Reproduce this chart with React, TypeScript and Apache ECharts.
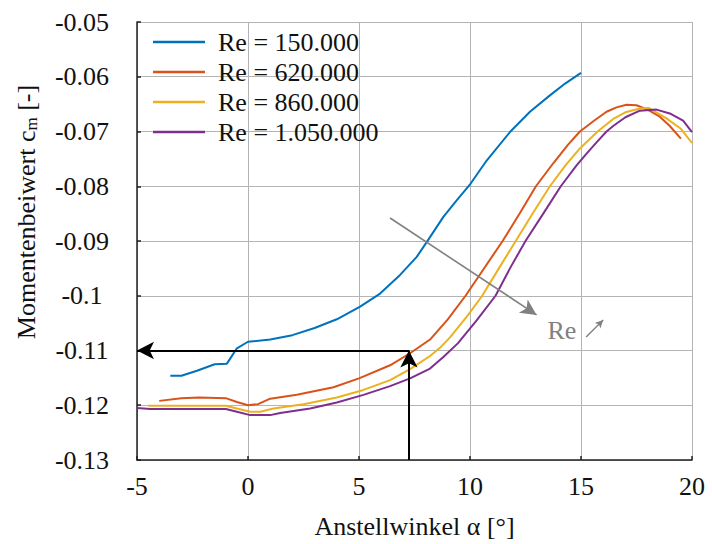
import React, { useEffect, useRef } from "react";
import * as echarts from "echarts";

const FONT = "'Liberation Serif', 'DejaVu Serif', serif";

const seriesNames = ["Re = 150.000", "Re = 620.000", "Re = 860.000", "Re = 1.050.000"];
const seriesColors = ["#0072BD", "#D95319", "#EDB120", "#7E2F8E"];

const alpha150 = [-3.5, -3.0, -2.3, -1.5, -0.95, -0.5, 0, 1, 2, 3, 4, 5.05, 5.95, 6.85, 7.6, 8.05, 8.8, 9.4, 10.03, 10.75, 11.8, 12.7, 13.6, 14.3, 15];
const cm150 = [-0.1146, -0.1146, -0.1137, -0.1125, -0.1124, -0.1096, -0.1084, -0.108, -0.1072, -0.1059, -0.1043, -0.102, -0.0996, -0.0962, -0.0929, -0.0902, -0.0856, -0.0826, -0.0795, -0.0753, -0.0701, -0.0664, -0.0634, -0.0612, -0.0593];

const alpha620 = [-4, -3, -2.2, -1, -0.5, 0, 0.45, 1, 2.2, 3.85, 5, 6.4, 7.3, 8.2, 9.0, 9.8, 10.6, 11.47, 12.25, 12.97, 13.75, 14.4, 14.95, 15.6, 16.15, 16.6, 17.05, 17.5, 18.0, 18.55, 19.0, 19.5];
const cm620 = [-0.1192, -0.1187, -0.1186, -0.1187, -0.1194, -0.12, -0.1198, -0.1188, -0.1181, -0.1167, -0.1151, -0.1127, -0.1105, -0.108, -0.1043, -0.1, -0.0952, -0.09, -0.0849, -0.08, -0.0758, -0.0725, -0.07, -0.068, -0.0664, -0.0656, -0.0651, -0.0652, -0.066, -0.0673, -0.069, -0.0713];

const alpha860 = [-4.5, -3, -1, -0.5, 0.1, 0.55, 1.15, 2.5, 4, 5.2, 6.4, 7.3, 7.75, 8.2, 8.7, 9.1, 9.9, 10.55, 11.3, 12.06, 12.85, 13.6, 14.3, 14.95, 15.75, 16.45, 17.0, 17.65, 18.05, 18.85, 19.5, 20];
const cm860 = [-0.1201, -0.1201, -0.1201, -0.1206, -0.1212, -0.1212, -0.1206, -0.1198, -0.1186, -0.1172, -0.1154, -0.1134, -0.1122, -0.111, -0.1093, -0.1076, -0.1036, -0.1, -0.095, -0.09, -0.0848, -0.08, -0.0762, -0.0731, -0.07, -0.0677, -0.0665, -0.0658, -0.0657, -0.0676, -0.0695, -0.0721];

const alpha1050 = [-5, -4.4, -3, -2, -1, -0.5, 0.1, 1, 1.45, 2.8, 4, 5.2, 6.4, 7.3, 8.2, 8.8, 9.45, 10.3, 11.15, 11.8, 12.5, 13.3, 14.09, 14.8, 15.26, 15.7, 16.15, 16.45, 17.0, 17.65, 18.4, 19, 19.6, 20];
const cm1050 = [-0.1205, -0.1207, -0.1207, -0.1207, -0.1207, -0.1212, -0.1218, -0.1218, -0.1214, -0.1206, -0.1195, -0.1181, -0.1165, -0.1151, -0.1133, -0.1112, -0.1087, -0.1045, -0.1, -0.095, -0.09, -0.085, -0.08, -0.0762, -0.074, -0.072, -0.07, -0.069, -0.0674, -0.0662, -0.066, -0.0667, -0.068, -0.0701];

const xTicks = [-5, 0, 5, 10, 15, 20];
const yTicks = [-0.13, -0.12, -0.11, -0.1, -0.09, -0.08, -0.07, -0.06, -0.05];

// annotation: reading at alpha = 7.25 -> cm = -0.11
const readAlpha = 7.25;
const readCm = -0.11;
// Re trend arrow
const trendStart = [6.4, -0.0858];
const trendEnd = [13.0, -0.1035];
const reLabelPos = [14.14, -0.1063];
const smallArrowStart = [15.23, -0.10755];
const smallArrowEnd = [16.0, -0.10445];

const alphas = [alpha150, alpha620, alpha860, alpha1050];
const cms = [cm150, cm620, cm860, cm1050];

export default function App() {
  const ref = useRef<HTMLDivElement>(null);
  useEffect(() => {
    document.body.style.margin = "0";
    if (!ref.current) return;
    const chart = echarts.init(ref.current, null, { renderer: "svg" });
    const lineSeries = seriesNames.map((name, i) => ({
      name,
      type: "line",
      data: alphas[i].map((a, j) => [a, cms[i][j]]),
      showSymbol: false,
      symbol: "none",
      lineStyle: { color: seriesColors[i], width: 2 },
      itemStyle: { color: seriesColors[i] },
      z: 3,
    }));
    const option: any = {
      animation: false,
      textStyle: { fontFamily: FONT },
      grid: { left: 137, right: 20, top: 22, bottom: 84, containLabel: false },
      legend: {
        data: seriesNames,
        orient: "vertical",
        left: 148,
        top: 24,
        icon: "rect",
        itemWidth: 52,
        itemHeight: 2.5,
        itemGap: 4,
        textStyle: { fontFamily: FONT, fontSize: 26, color: "#111", lineHeight: 26, padding: [0, 0, 0, 8] },
        backgroundColor: "transparent",
      },
      xAxis: {
        type: "value",
        min: -5,
        max: 20,
        interval: 5,
        name: "Anstellwinkel α [°]",
        nameLocation: "middle",
        nameGap: 53,
        nameTextStyle: { fontFamily: FONT, fontSize: 26, color: "#111" },
        axisLine: { show: true, onZero: false, lineStyle: { color: "#222", width: 1.5 } },
        axisTick: { show: true, inside: true, length: 4, lineStyle: { color: "#222", width: 1.5 } },
        axisLabel: { fontFamily: FONT, fontSize: 26, color: "#111", margin: 13, formatter: (v: number) => (xTicks.includes(v) ? String(v) : "") },
        splitLine: { show: true, lineStyle: { color: "#b4b4b4", width: 1 } },
      },
      yAxis: {
        type: "value",
        min: -0.13,
        max: -0.05,
        interval: 0.01,
        axisLine: { show: true, onZero: false, lineStyle: { color: "#222", width: 1.5 } },
        axisTick: { show: true, inside: true, length: 4, lineStyle: { color: "#222", width: 1.5 } },
        axisLabel: {
          fontFamily: FONT,
          fontSize: 26,
          color: "#111",
          align: "center",
          margin: 55,
          formatter: (v: number) => {
            const r = Math.round(v * 100) / 100;
            const t = yTicks.find((y) => Math.abs(y - r) < 1e-9);
            return t === undefined ? "" : String(t);
          },
        },
        splitLine: { show: true, lineStyle: { color: "#b4b4b4", width: 1 } },
      },
      graphic: [
        {
          type: "text",
          x: 26,
          y: 212,
          rotation: Math.PI / 2,
          style: {
            text: "Momentenbeiwert c{s|m} [-]",
            fontFamily: FONT,
            fontSize: 26,
            fill: "#111",
            align: "center",
            verticalAlign: "middle",
            rich: { s: { fontFamily: FONT, fontSize: 17, fill: "#111", padding: [10, 0, 0, 0] } },
          },
        },
      ],
      series: [
        ...lineSeries,
        {
          name: "annot",
          type: "line",
          data: [],
          silent: true,
          z: 5,
          markLine: {
            silent: true,
            animation: false,
            label: { show: false },
            symbol: ["none", "arrow"],
            symbolSize: [13, 17],
            lineStyle: { type: "solid", color: "#000", width: 2 },
            data: [
              [{ coord: [readAlpha, -0.13] }, { coord: [readAlpha, readCm] }],
              [{ coord: [readAlpha, readCm] }, { coord: [-5, readCm] }],
              [
                { coord: trendStart, lineStyle: { color: "#808080", width: 1.6, type: "solid" }, symbolSize: [12, 16] },
                { coord: trendEnd, lineStyle: { color: "#808080", width: 1.6, type: "solid" }, symbolSize: [12, 16] },
              ],
              [
                { coord: smallArrowStart, lineStyle: { color: "#808080", width: 1.4, type: "solid" }, symbolSize: [6, 8] },
                { coord: smallArrowEnd, lineStyle: { color: "#808080", width: 1.4, type: "solid" }, symbolSize: [6, 8] },
              ],
            ],
          },
          markPoint: {
            silent: true,
            symbol: "circle",
            symbolSize: 0,
            label: { show: true, position: "inside", formatter: "Re", fontFamily: FONT, fontSize: 26, color: "#808080" },
            data: [{ coord: reLabelPos }],
          },
        },
      ],
    };
    chart.setOption(option);
    return () => chart.dispose();
  }, []);
  return <div ref={ref} style={{ width: 712, height: 544 }} />;
}
